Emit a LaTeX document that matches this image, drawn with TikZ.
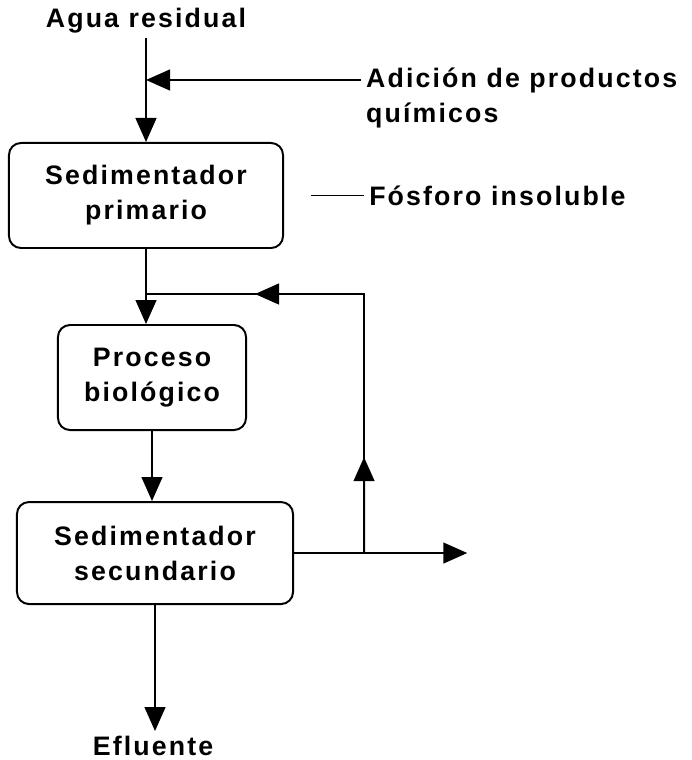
\documentclass[tikz,border=0pt]{standalone}
\usepackage{fontspec}
\setmainfont{Liberation Sans}[LetterSpace=8]
\usetikzlibrary{arrows.meta,calc,positioning}

\begin{document}
\begin{tikzpicture}[x=0.025cm,y=-0.025cm,font=\bfseries\fontsize{19}{25}\selectfont,line width=1.4pt]
  \tikzset{tank/.style={draw, rounded corners=3mm, align=center, inner sep=2pt}, txt/.style={inner sep=3pt, align=left}, arr/.style={-{Triangle[length=0.6cm,width=0.52cm]}}}
  \useasboundingbox (0,0) rectangle (691,760);
  \node[tank, minimum width=6.85cm, minimum height=2.625cm] (s1) at (146,195.5) {Sedimentador\\primario};
  \node[tank, minimum width=4.7cm, minimum height=2.625cm, below=1.875cm of s1, xshift=0.15cm] (p1) {Proceso\\biológico};
  \node[tank, minimum width=6.9cm, minimum height=2.55cm, below=1.75cm of p1, xshift=0.075cm] (s2) {Sedimentador\\secundario};
  \node[txt, above=2.6cm of s1] (agua) {Agua residual};
  \node[txt, below=3.15cm of s2, xshift=-0.05cm] (eflu) {Efluente};
  \node[txt, right=2cm of s1] (fos) {Fósforo insoluble};
  \node[txt, anchor=west] (quim) at (361,98.4) {Adición de productos\\químicos};
  \coordinate (qin) at ([yshift=0.46cm]quim.west);
  \coordinate (join) at ($(s1.south)!0.6!(s1.south |- p1.north)$);
  \coordinate (split) at ([xshift=1.75cm]s2.east);
  \coordinate (out) at ([xshift=4.33cm]s2.east);
  \coordinate (fb) at (split |- join);
  \draw[arr] (agua) -- (s1);
  \draw[arr] (qin) -- (qin -| agua.south);
  \draw (fos.west) -- ([xshift=0.68cm]s1.east |- fos.west);
  \draw[arr] (s1.south) -- (s1.south |- p1.north);
  \draw[arr] (p1.south) -- (p1.south |- s2.north);
  \draw[arr] (s2.south) -- (s2.south |- eflu.north);
  \draw[arr] (s2.east) -- (out);
  % recirculacion
  \draw (split) -- (fb) -- (join);
  \draw[arr] (split) -- ($(split)!0.37!(fb)$);
  \draw[arr] (fb) -- ($(fb)!0.5!(join)$);
\end{tikzpicture}
\end{document}
